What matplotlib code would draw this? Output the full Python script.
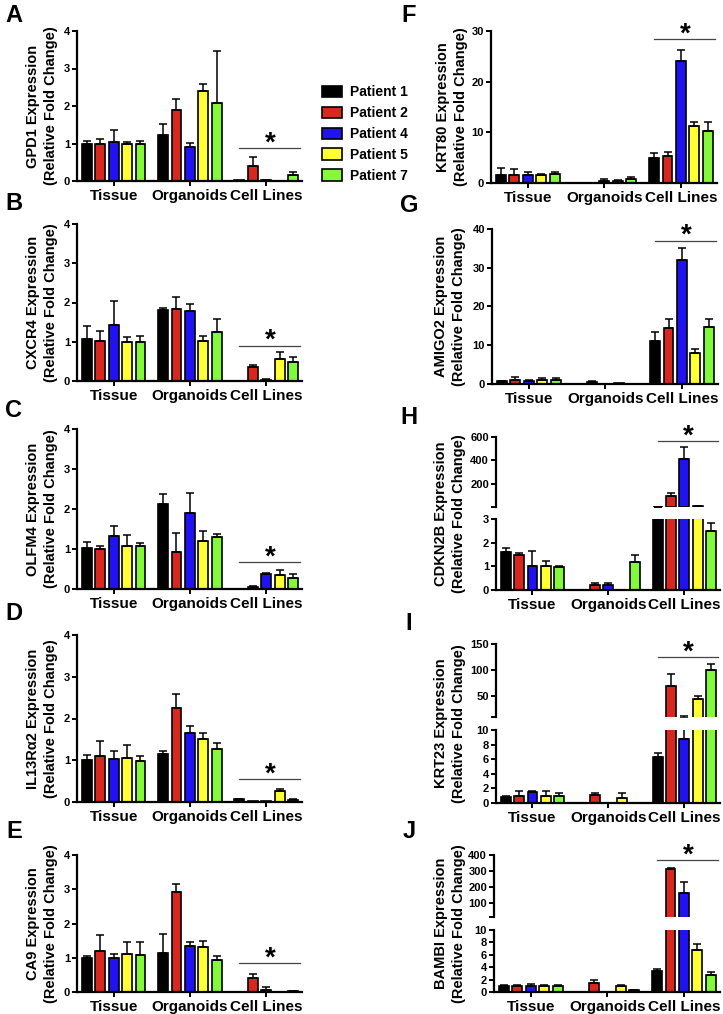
import numpy as np
import matplotlib
matplotlib.use('Agg')
import matplotlib.pyplot as plt
from matplotlib.patches import Patch

#### FIGURE SIZE (pixels) ####
W, H = 723, 1014

plt.rcParams['font.family'] = ['Liberation Sans', 'DejaVu Sans']
plt.rcParams['font.weight'] = 'bold'

#### DATA ####
groups = ['Tissue', 'Organoids', 'Cell Lines']
patients = ['Patient 1', 'Patient 2', 'Patient 4', 'Patient 5', 'Patient 7']
colors = ['#000000', '#d8271c', '#2112f2', '#ffff33', '#84f83a']

# rows = Tissue / Organoids / Cell Lines, columns = patients 1,2,4,5,7
gpd1 = [[1.0, 1.0, 1.05, 0.99, 0.99], [1.24, 1.89, 0.9, 2.41, 2.08], [0.02, 0.41, 0.03, 0.0, 0.15]]
gpd1_err = [[0.06, 0.13, 0.3, 0.05, 0.09], [0.29, 0.29, 0.11, 0.17, 1.39], [0.0, 0.24, 0.01, 0.0, 0.1]]

cxcr4 = [[1.07, 1.03, 1.43, 1.0, 1.0], [1.81, 1.83, 1.79, 1.03, 1.25], [0.0, 0.36, 0.03, 0.56, 0.48]]
cxcr4_err = [[0.33, 0.25, 0.62, 0.13, 0.15], [0.04, 0.3, 0.18, 0.12, 0.33], [0.0, 0.06, 0.01, 0.19, 0.14]]

olfm4 = [[1.03, 0.99, 1.32, 1.07, 1.07], [2.12, 0.92, 1.91, 1.19, 1.31], [0.01, 0.06, 0.38, 0.34, 0.28]]
olfm4_err = [[0.15, 0.09, 0.25, 0.27, 0.09], [0.25, 0.48, 0.49, 0.25, 0.07], [0.0, 0.02, 0.02, 0.14, 0.1]]

il13 = [[1.0, 1.1, 1.03, 1.06, 0.99], [1.14, 2.26, 1.65, 1.5, 1.27], [0.06, 0.02, 0.02, 0.27, 0.05]]
il13_err = [[0.13, 0.36, 0.2, 0.31, 0.11], [0.09, 0.32, 0.18, 0.16, 0.15], [0.01, 0.0, 0.0, 0.03, 0.01]]

ca9 = [[0.99, 1.21, 0.99, 1.1, 1.09], [1.14, 2.91, 1.34, 1.3, 0.93], [0.0, 0.42, 0.07, 0.01, 0.03]]
ca9_err = [[0.06, 0.46, 0.13, 0.35, 0.37], [0.56, 0.24, 0.13, 0.2, 0.11], [0.0, 0.1, 0.07, 0.0, 0.01]]

krt80 = [[1.6, 1.6, 1.6, 1.5, 1.7], [0.0, 0.0, 0.4, 0.3, 0.7], [5.0, 5.4, 24.1, 11.3, 10.2]]
krt80_err = [[1.4, 1.2, 0.5, 0.2, 0.5], [0.0, 0.0, 0.35, 0.3, 0.55], [0.9, 0.8, 2.1, 0.7, 1.9]]

amigo2 = [[0.77, 1.0, 0.77, 0.94, 1.0], [0.0, 0.6, 0.0, 0.15, 0.0], [11.2, 14.4, 31.9, 7.9, 14.8]]
amigo2_err = [[0.1, 0.7, 0.15, 0.66, 0.6], [0.0, 0.2, 0.0, 0.0, 0.0], [2.1, 2.4, 3.3, 1.1, 2.0]]

cdkn2b = [[1.6, 1.46, 1.03, 1.0, 0.97], [0.0, 0.2, 0.2, 0.01, 1.2], [5.0, 100.0, 410.0, 10.0, 2.48]]
cdkn2b_err = [[0.18, 0.1, 0.6, 0.22, 0.05], [0.0, 0.08, 0.08, 0.0, 0.27], [0.5, 25.0, 105.0, 3.0, 0.35]]

krt23 = [[0.8, 1.0, 1.5, 1.0, 0.9], [0.0, 1.1, 0.0, 0.7, 0.0], [6.3, 70.0, 8.8, 44.0, 100.0]]
krt23_err = [[0.1, 0.6, 0.2, 0.6, 0.5], [0.0, 0.3, 0.0, 0.7, 0.0], [0.5, 23.0, 2.6, 6.0, 12.0]]

bambi = [[1.0, 0.9, 1.0, 0.9, 0.9], [0.0, 1.5, 0.0, 0.95, 0.3], [3.4, 310.0, 163.0, 6.8, 2.8]]
bambi_err = [[0.2, 0.2, 0.25, 0.2, 0.25], [0.0, 0.5, 0.0, 0.1, 0.1], [0.3, 8.0, 70.0, 0.9, 0.4]]

#### DRAWING ####
fig = plt.figure(figsize=(W / 100, H / 100), dpi=100)
fig.patch.set_facecolor('white')

BAR_STEP = 0.176
BAR_W = 0.13


def ax_px(x0, x1, ytop, ybot):
    return fig.add_axes([x0 / W, 1 - ybot / H, (x1 - x0) / W, (ybot - ytop) / H])


def style(ax, bottom=True):
    for s in ['top', 'right']:
        ax.spines[s].set_visible(False)
    ax.spines['left'].set_linewidth(1.6)
    ax.spines['bottom'].set_linewidth(1.6)
    ax.tick_params(axis='y', direction='out', length=3.5, width=1.4, labelsize=8, pad=1.5)
    ax.set_xlim(-0.48, 2.47)
    if bottom:
        ax.set_xticks(range(len(groups)))
        ax.set_xticklabels(groups, fontsize=11, fontweight='bold')
        ax.tick_params(axis='x', direction='out', length=3.5, width=1.4, pad=2.5)
    else:
        ax.spines['bottom'].set_visible(False)
        ax.set_xticks([])
    for lab in ax.get_yticklabels():
        lab.set_fontweight('bold')


def draw_bars(ax, mean, err, floor=None):
    # floor: lower limit of a broken (upper) axis, marks under it are skipped
    mean = np.array(mean)
    err = np.array(err)
    for p in range(len(patients)):
        x = np.arange(len(groups)) + (p - 2) * BAR_STEP
        m = mean[:, p]
        e = err[:, p]
        show = np.ones(len(m), bool) if floor is None else m > floor
        if show.any():
            ax.bar(x[show], m[show], BAR_W, color=colors[p], edgecolor='black', linewidth=1.2, zorder=2)
        keep = e > 0
        if floor is not None:
            keep &= (m + e) > floor
        if keep.any():
            ax.errorbar(x[keep], m[keep], yerr=[np.zeros(keep.sum()), e[keep]],
                        fmt='none', ecolor='black', elinewidth=1.1, capsize=3.2, capthick=1.1, zorder=3)


def sig(ax, y):
    ax.plot([2 - 0.35, 2 + 0.45], [y, y], color='#444444', lw=0.9, clip_on=False, zorder=4)
    ax.annotate('*', (2.05, y), xytext=(0, -6), textcoords='offset points', ha='center', va='bottom',
                fontsize=20, fontweight='bold', annotation_clip=False)


def ylab(x, ytop, ybot, gene):
    fig.text(x / W, 1 - (ytop + ybot) / 2 / H, gene + ' Expression\n(Relative Fold Change)', rotation=90,
             ha='center', va='center', multialignment='center', fontsize=10.5, fontweight='bold',
             linespacing=1.3)


def letter(x, y, s):
    fig.text(x / W, 1 - y / H, s, ha='center', va='center', fontsize=17, fontweight='bold')


def simple_panel(x0, x1, ytop, ybot, mean, err, top, step, sig_y, gene, lab_x):
    ax = ax_px(x0, x1, ytop, ybot)
    draw_bars(ax, mean, err)
    ax.set_ylim(0, top)
    ax.set_yticks(np.arange(0, top + step / 2, step))
    style(ax)
    sig(ax, sig_y)
    ylab(lab_x, ytop, ybot, gene)


def broken_panel(x0, x1, up, lo, mean, err, hi_lim, hi_ticks, lo_top, lo_ticks, sig_y, gene, lab_x):
    axu = ax_px(x0, x1, up[0], up[1])
    axl = ax_px(x0, x1, lo[0], lo[1])
    draw_bars(axu, mean, err, floor=hi_lim[0])
    draw_bars(axl, mean, err)
    axu.set_ylim(*hi_lim)
    axu.set_yticks([hi_lim[0]] + hi_ticks)
    axu.set_yticklabels([''] + [str(t) for t in hi_ticks])
    axl.set_ylim(0, lo_top)
    axl.set_yticks(lo_ticks)
    style(axu, bottom=False)
    style(axl)
    sig(axu, sig_y)
    ylab(lab_x, up[0], lo[1], gene)


# left column
simple_panel(77, 302, 31, 181, gpd1, gpd1_err, 4, 1, 0.87, 'GPD1', 42)
simple_panel(77, 302, 224, 381, cxcr4, cxcr4_err, 4, 1, 0.9, 'CXCR4', 42)
simple_panel(77, 302, 429, 589, olfm4, olfm4_err, 4, 1, 0.68, 'OLFM4', 42)
simple_panel(77, 302, 635, 802, il13, il13_err, 4, 1, 0.54, 'IL13Rα2', 42)
simple_panel(77, 302, 855, 992, ca9, ca9_err, 4, 1, 0.84, 'CA9', 42)

# right column
simple_panel(491, 717, 31, 183, krt80, krt80_err, 30, 10, 28.4, 'KRT80', 452)
simple_panel(492, 718, 229, 384, amigo2, amigo2_err, 40, 10, 37, 'AMIGO2', 450)
broken_panel(496, 720, (437, 507), (519, 590), cdkn2b, cdkn2b_err, (3, 600), [200, 400, 600],
             3, [0, 1, 2, 3], 566, 'CDKN2B', 450)
broken_panel(496, 720, (644, 717), (730, 803), krt23, krt23_err, (10, 150), [50, 100, 150],
             10, [0, 2, 4, 6, 8, 10], 125, 'KRT23', 450)
broken_panel(494, 720, (855, 917), (930, 992), bambi, bambi_err, (10, 400), [100, 200, 300, 400],
             10, [0, 2, 4, 6, 8, 10], 366, 'BAMBI', 450)

# panel letters
for s, y in zip('ABCDE', [16, 203, 410, 614, 832]):
    letter(14, y, s)
for s, y in zip('FGHIJ', [16, 205, 417, 624, 832]):
    letter(409, y, s)

# legend
handles = [Patch(facecolor=c, edgecolor='black', linewidth=1.2) for c in colors]
fig.legend(handles, patients, loc='upper left', bbox_to_anchor=(322 / W, 1 - 85 / H), frameon=False,
           prop={'weight': 'bold', 'size': 10}, handlelength=1.45, handleheight=0.85,
           labelspacing=0.5, handletextpad=0.55, borderaxespad=0, borderpad=0)

fig.savefig('out.png', dpi=100)
